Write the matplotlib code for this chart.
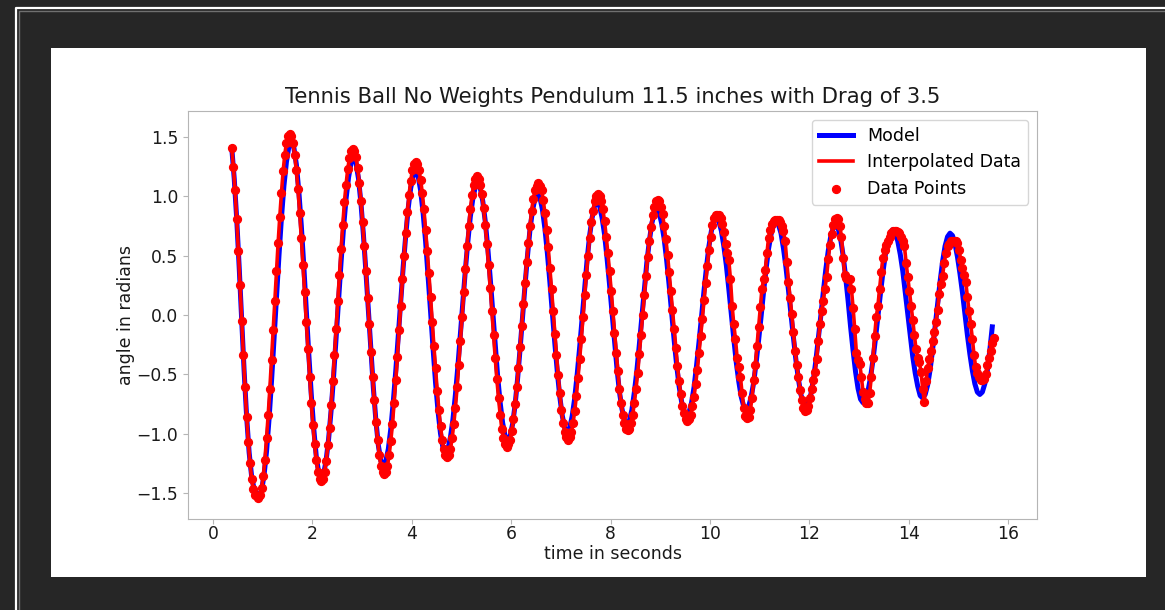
import matplotlib
matplotlib.use("Agg")
import matplotlib.pyplot as plt
from matplotlib.lines import Line2D
from matplotlib.patches import Rectangle
import numpy as np

# tracked angle of the ball, one value per video frame (30 fps, first frame at 0.38 s)
t_start = 0.38
fps = 30.0
angle = [
    1.41, 1.25, 1.05, 0.81, 0.54, 0.25, -0.05, -0.34, -0.61, -0.86, -1.07, -1.25, -1.38, -1.47, -1.52, -1.53,
    -1.54, -1.52, -1.46, -1.36, -1.22, -1.04, -0.84, -0.62, -0.38, -0.13, 0.12, 0.37, 0.61, 0.83, 1.03, 1.21, 1.35, 1.45, 1.51,
    1.53, 1.51, 1.45, 1.35, 1.22, 1.06, 0.86, 0.65, 0.42, 0.19, -0.06, -0.29, -0.52, -0.74, -0.93, -1.09, -1.22, -1.32, -1.38,
    -1.40, -1.38, -1.32, -1.23, -1.10, -0.95, -0.76, -0.56, -0.34, -0.12, 0.12, 0.34, 0.56, 0.76, 0.95, 1.10, 1.23, 1.32, 1.38,
    1.40, 1.38, 1.33, 1.24, 1.11, 0.96, 0.78, 0.58, 0.37, 0.14, -0.08, -0.31, -0.52, -0.72, -0.90, -1.05, -1.18, -1.27, -1.32,
    -1.34, -1.32, -1.27, -1.18, -1.06, -0.92, -0.74, -0.55, -0.35, -0.13, 0.08, 0.30, 0.50, 0.69, 0.87, 1.01, 1.13, 1.22, 1.27,
    1.29, 1.27, 1.22, 1.14, 1.03, 0.89, 0.72, 0.54, 0.35, 0.15, -0.06, -0.26, -0.45, -0.64, -0.80, -0.94, -1.05, -1.13, -1.18,
    -1.20, -1.18, -1.13, -1.04, -0.92, -0.78, -0.61, -0.42, -0.22, -0.02, 0.19, 0.39, 0.58, 0.75, 0.89, 1.01, 1.10, 1.15,
    1.17, 1.15, 1.10, 1.02, 0.90, 0.76, 0.60, 0.42, 0.23, 0.03, -0.17, -0.36, -0.54, -0.70, -0.84, -0.96, -1.04, -1.09,
    -1.11, -1.09, -1.05, -0.98, -0.88, -0.75, -0.61, -0.45, -0.27, -0.09, 0.09, 0.27, 0.45, 0.61, 0.75, 0.88, 0.98, 1.05, 1.09,
    1.11, 1.09, 1.05, 0.97, 0.86, 0.72, 0.57, 0.40, 0.22, 0.03, -0.16, -0.34, -0.51, -0.66, -0.80, -0.91, -0.99, -1.03,
    -1.05, -1.03, -0.99, -0.91, -0.81, -0.68, -0.53, -0.37, -0.20, -0.02, 0.17, 0.34, 0.50, 0.65, 0.78, 0.88, 0.96, 1.00,
    1.02, 1.00, 0.96, 0.89, 0.79, 0.66, 0.52, 0.37, 0.20, 0.03, -0.15, -0.32, -0.47, -0.62, -0.74, -0.84, -0.91, -0.96,
    -0.97, -0.96, -0.91, -0.84, -0.74, -0.62, -0.49, -0.33, -0.17, 0.00, 0.17, 0.33, 0.49, 0.62, 0.74, 0.84, 0.91, 0.96,
    0.97, 0.96, 0.91, 0.85, 0.75, 0.64, 0.51, 0.36, 0.20, 0.04, -0.12, -0.28, -0.43, -0.56, -0.67, -0.77, -0.83, -0.88,
    -0.89, -0.88, -0.84, -0.77, -0.69, -0.58, -0.46, -0.32, -0.18, -0.03, 0.13, 0.27, 0.41, 0.55, 0.66,
    0.76, 0.82, 0.84,
    0.84, 0.84, 0.82, 0.77, 0.70, 0.60, 0.52, 0.46, 0.30, 0.08, -0.08, -0.20, -0.36, -0.44, -0.52, -0.66, -0.78, -0.85,
    -0.87, -0.86, -0.80, -0.70, -0.55, -0.42, -0.26, -0.10, 0.07, 0.22, 0.30, 0.38, 0.52, 0.65, 0.72, 0.77, 0.79, 0.80,
    0.80, 0.80, 0.78, 0.75, 0.71, 0.62, 0.45, 0.28, 0.14, 0.01, -0.14, -0.30, -0.42, -0.52, -0.63, -0.72, -0.78,
    -0.81, -0.80, -0.77, -0.70, -0.62, -0.55, -0.48, -0.37, -0.22, -0.08, 0.03, 0.12, 0.22, 0.32, 0.47, 0.59, 0.68, 0.76, 0.81, 0.82,
    0.81, 0.75, 0.66, 0.48, 0.34, 0.31, 0.30, 0.30, 0.22, 0.06, -0.12, -0.32, -0.38, -0.41, -0.52, -0.65, -0.71,
    -0.74, -0.74, -0.66, -0.52, -0.36, -0.18, -0.02, 0.08, 0.22, 0.36, 0.48, 0.55, 0.59, 0.62, 0.66, 0.69,
    0.71, 0.71, 0.71, 0.70, 0.69, 0.66, 0.62, 0.58, 0.44, 0.32, 0.20, 0.08, -0.04, -0.17, -0.29, -0.36, -0.40, -0.48, -0.62,
    -0.73, -0.56, -0.45, -0.37, -0.30, -0.22, -0.14, -0.06, 0.04, 0.18, 0.26, 0.33, 0.44, 0.52, 0.58, 0.60, 0.62, 0.62, 0.62, 0.62,
    0.61, 0.55, 0.46, 0.40, 0.34, 0.28, 0.15, 0.03, -0.08, -0.20, -0.34, -0.44, -0.49, -0.52, -0.55, -0.55, -0.54, -0.50, -0.42,
    -0.36, -0.30, -0.24, -0.19,
]

# model output, stored every 0.05 s from the same start time
model_dt = 0.05
model_angle = [
    1.41, 1.15, 0.81, 0.40, -0.05, -0.48, -0.86, -1.16, -1.36, -1.47, -1.51,
    -1.52, -1.48, -1.35, -1.15, -0.88, -0.56, -0.21, 0.15, 0.50, 0.82, 1.09, 1.29, 1.42,
    1.46, 1.41, 1.27, 1.04, 0.75, 0.41, 0.04, -0.33, -0.67, -0.96, -1.19, -1.33,
    -1.38, -1.34, -1.22, -1.04, -0.80, -0.51, -0.19, 0.13, 0.45, 0.74, 0.98, 1.16, 1.28,
    1.32, 1.28, 1.15, 0.94, 0.67, 0.36, 0.03, -0.31, -0.62, -0.89, -1.10, -1.23,
    -1.27, -1.23, -1.13, -0.96, -0.73, -0.47, -0.18, 0.12, 0.41, 0.67, 0.90, 1.07, 1.17,
    1.21, 1.17, 1.05, 0.86, 0.62, 0.33, 0.03, -0.28, -0.57, -0.81, -1.00, -1.12,
    -1.16, -1.13, -1.03, -0.88, -0.67, -0.43, -0.16, 0.11, 0.38, 0.62, 0.83, 0.98, 1.08,
    1.11, 1.07, 0.96, 0.79, 0.57, 0.31, 0.03, -0.26, -0.52, -0.74, -0.91, -1.02,
    -1.06, -1.02, -0.92, -0.76, -0.54, -0.29, -0.02, 0.25, 0.50, 0.72, 0.88, 0.98,
    1.02, 0.99, 0.89, 0.73, 0.52, 0.28, 0.02, -0.24, -0.48, -0.69, -0.85, -0.95,
    -0.98, -0.95, -0.85, -0.70, -0.50, -0.27, -0.02, 0.24, 0.47, 0.67, 0.82, 0.92,
    0.95, 0.92, 0.82, 0.68, 0.48, 0.26, 0.02, -0.23, -0.45, -0.65, -0.79, -0.89,
    -0.92, -0.89, -0.80, -0.65, -0.47, -0.25, -0.02, 0.22, 0.44, 0.62, 0.77, 0.86,
    0.89, 0.86, 0.77, 0.64, 0.46, 0.25, 0.02, -0.21, -0.42, -0.60, -0.73, -0.82,
    -0.85, -0.82, -0.74, -0.61, -0.43, -0.23, -0.02, 0.20, 0.40, 0.58, 0.71, 0.79,
    0.82, 0.79, 0.71, 0.58, 0.42, 0.22, 0.01, -0.20, -0.40, -0.56, -0.69, -0.77,
    -0.80, -0.77, -0.69, -0.57, -0.40, -0.21, -0.01, 0.20, 0.39, 0.56, 0.68, 0.76,
    0.79, 0.76, 0.69, 0.56, 0.40, 0.21, 0.01, -0.19, -0.38, -0.54, -0.67, -0.74,
    -0.77, -0.74, -0.67, -0.55, -0.39, -0.20, -0.01, 0.19, 0.38, 0.54, 0.66, 0.73,
    0.76, 0.73, 0.64, 0.50, 0.32, 0.12, -0.10, -0.30, -0.48, -0.62, -0.71,
    -0.74, -0.72, -0.64, -0.53, -0.38, -0.20, -0.01, 0.18, 0.36, 0.51, 0.62, 0.69,
    0.72, 0.70, 0.62, 0.51, 0.37, 0.19, 0.01, -0.17, -0.35, -0.49, -0.60, -0.68,
    -0.70, -0.67, -0.59, -0.46, -0.29, -0.10, 0.09, 0.28, 0.45, 0.58, 0.66,
    0.69, 0.67, 0.60, 0.49, 0.35, 0.19, 0.01, -0.17, -0.33, -0.47, -0.58, -0.65,
    -0.67, -0.65, -0.58, -0.47, -0.30, -0.10,
]

x_ticks = [0, 2, 4, 6, 8, 10, 12, 14, 16]
y_ticks = [-1.5, -1.0, -0.5, 0.0, 0.5, 1.0, 1.5]

t_data = t_start + np.arange(len(angle)) / fps
t_model = t_start + np.arange(len(model_angle)) * model_dt

W, H = 1165, 610
fig = plt.figure(figsize=(W / 100, H / 100), dpi=100, facecolor="#262626")

# notebook cell frame around the white figure (kept behind the axes)
fig.add_artist(Line2D([15.5 / W, 15.5 / W, 1], [0, 1 - 7.5 / H, 1 - 7.5 / H],
                      transform=fig.transFigure, color="white", lw=1.6, zorder=-10))
fig.add_artist(Line2D([18.8 / W, 18.8 / W, 1], [0, 1 - 10.5 / H, 1 - 10.5 / H],
                      transform=fig.transFigure, color="#707070", lw=1.0, zorder=-10))
fig.add_artist(Rectangle((51 / W, 1 - 577 / H), 1095 / W, 529 / H,
                         transform=fig.transFigure, facecolor="white", edgecolor="none", zorder=-10))

ax = fig.add_axes([188 / W, 1 - 519 / H, 849 / W, 408 / H])

ax.plot(t_model, model_angle, color="blue", lw=3.6, label="Model", zorder=2)
ax.plot(t_data, angle, color="red", lw=2.6, label="Interpolated Data", zorder=3)
ax.scatter(t_data, angle, color="red", s=32, label="Data Points", zorder=4)

ax.set_xlim(-0.5, 16.58)
ax.set_ylim(-1.72, 1.72)
ax.set_xticks(x_ticks)
ax.set_yticks(y_ticks)

ax.set_title("Tennis Ball No Weights Pendulum 11.5 inches with Drag of 3.5", fontsize=15.2, color="#1a1a1a")
ax.set_xlabel("time in seconds", fontsize=12.5, color="#1a1a1a", labelpad=1)
ax.set_ylabel("angle in radians", fontsize=12.5, color="#1a1a1a", labelpad=1)

for s in ax.spines.values():
    s.set_color("#b5b5b5")
ax.tick_params(colors="#b5b5b5", labelcolor="#1a1a1a", labelsize=12.3)
ax.tick_params(axis="x", pad=1)

ax.legend(loc="upper right", fontsize=12.5)

fig.savefig("out.png", dpi=100, facecolor=fig.get_facecolor())
